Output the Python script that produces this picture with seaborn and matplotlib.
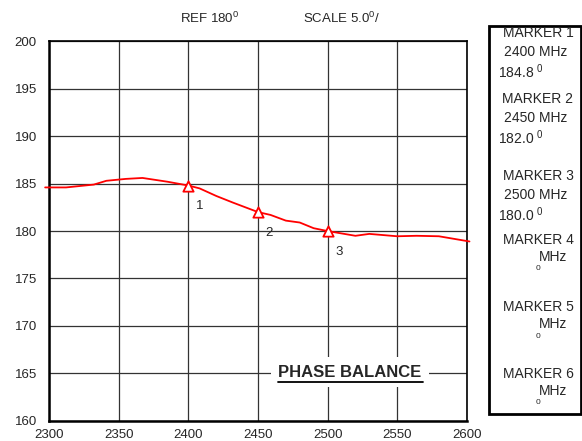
import matplotlib
matplotlib.use("Agg")
import matplotlib.pyplot as plt
from matplotlib.patches import Rectangle
import pandas as pd
import seaborn as sns

# ---------------------------------------------------------------------------
# Data
# ---------------------------------------------------------------------------

freq_mhz = [2297, 2312, 2332, 2341, 2355, 2367, 2385, 2400, 2408, 2420, 2432,
            2450, 2459, 2470, 2480, 2490, 2500, 2520, 2530, 2550, 2564, 2580, 2602]
phase_deg = [184.6, 184.6, 184.9, 185.3, 185.5, 185.6, 185.2, 184.8, 184.5, 183.7, 183.0,
             182.0, 181.7, 181.1, 180.9, 180.3, 180.0, 179.5, 179.7, 179.45, 179.5, 179.45, 178.9]

marker_ids = ["1", "2", "3"]
marker_freq = [2400, 2450, 2500]
marker_phase = [184.8, 182.0, 180.0]

box_labels = [
    ("MARKER 1", "2400 MHz", "184.8 $^{0}$"),
    ("MARKER 2", "2450 MHz", "182.0 $^{0}$"),
    ("MARKER 3", "2500 MHz", "180.0 $^{0}$"),
    ("MARKER 4", "MHz", "$^{0}$"),
    ("MARKER 5", "MHz", "$^{0}$"),
    ("MARKER 6", "MHz", "$^{0}$"),
]

x_ticks = [2300, 2350, 2400, 2450, 2500, 2550, 2600]
y_ticks = [160, 165, 170, 175, 180, 185, 190, 195, 200]

trace = pd.DataFrame({"freq": freq_mhz, "phase": phase_deg})
markers = pd.DataFrame({"freq": marker_freq, "phase": marker_phase, "id": marker_ids})

# ---------------------------------------------------------------------------
# Style
# ---------------------------------------------------------------------------

sns.set_style("white")
plt.rcParams["font.family"] = ["Liberation Sans", "DejaVu Sans"]
plt.rcParams["mathtext.fontset"] = "custom"
plt.rcParams["mathtext.rm"] = "Liberation Sans"
plt.rcParams["mathtext.it"] = "Liberation Sans"

W, H = 582, 441
fig = plt.figure(figsize=(W / 100, H / 100), dpi=100)
ax = fig.add_axes([49.3 / W, 1 - 420.7 / H, 417.4 / W, 379.3 / H])

# ---------------------------------------------------------------------------
# Plot
# ---------------------------------------------------------------------------

sns.lineplot(data=trace, x="freq", y="phase", ax=ax, color="#ff0000",
             linewidth=1.3, zorder=3)
for ln in ax.get_lines():
    ln.set_clip_on(False)

sns.scatterplot(data=markers, x="freq", y="phase", ax=ax, marker="^", s=55,
                facecolor="white", edgecolor="#ff0000", linewidth=1.3, zorder=4)

for row in markers.itertuples():
    ax.annotate(row.id, (row.freq, row.phase), xytext=(8, -15),
                textcoords="offset points", fontsize=9.5, ha="center", va="center")

ax.set_xlim(2300, 2600)
ax.set_ylim(160, 200)
ax.set_xticks(x_ticks)
ax.set_yticks(y_ticks)
ax.set_xlabel("")
ax.set_ylabel("")
ax.tick_params(axis="both", length=0, labelsize=9.5)
ax.tick_params(axis="x", pad=6)
ax.tick_params(axis="y", pad=9)
ax.grid(True, color="#333333", linewidth=0.9)
ax.set_axisbelow(True)
for side, sp in ax.spines.items():
    sp.set_visible(True)
    sp.set_color("black")
    sp.set_linewidth(1.8 if side in ("left", "bottom") else 1.2)

# Title block
ax.text(2516, 165.1, "PHASE BALANCE", fontsize=12, fontweight="bold",
        ha="center", va="center", zorder=5,
        bbox=dict(boxstyle="square,pad=0.45", facecolor="white", edgecolor="none"))
ax.plot([0.548, 0.895], [0.1008, 0.1008], transform=ax.transAxes,
        color="black", linewidth=1.3, zorder=6)

fig.text(180 / W, 1 - 23 / H, "REF 180$^{0}$", fontsize=9.5, va="baseline")
fig.text(303 / W, 1 - 23 / H, "SCALE 5.0$^{0}$/", fontsize=9.5, va="baseline")

# Marker readout box
fig.add_artist(Rectangle((488.5 / W, 1 - 414 / H), 92 / W, 388 / H,
                         transform=fig.transFigure, fill=False,
                         edgecolor="black", linewidth=2))
group_y = [33, 99, 176, 240, 307, 374]
for (title, mhz, deg), gy in zip(box_labels, group_y):
    fig.text(538 / W, 1 - gy / H, title, fontsize=10, ha="center", va="center")
    if mhz == "MHz":
        fig.text(553 / W, 1 - (gy + 17) / H, mhz, fontsize=10, ha="center", va="center")
        fig.text(538 / W, 1 - (gy + 29) / H, "0", fontsize=6, ha="center", va="center")
    else:
        fig.text(536 / W, 1 - (gy + 19) / H, mhz, fontsize=10, ha="center", va="center")
        fig.text(498 / W, 1 - (gy + 39) / H, deg, fontsize=10, ha="left", va="center")

fig.savefig("out.png", dpi=100, facecolor="white")
